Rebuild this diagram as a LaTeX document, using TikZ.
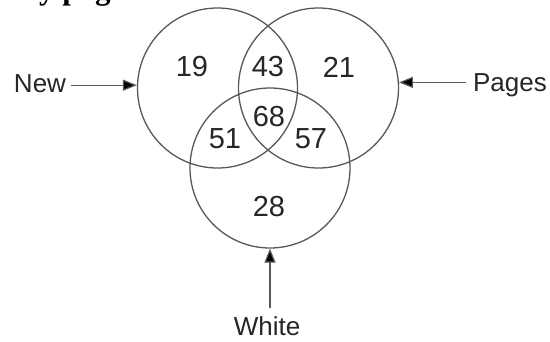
\documentclass[tikz,border=0pt]{standalone}
\usepackage{fontspec}
\setmainfont{Liberation Sans}
\newfontfamily\headfont{Liberation Serif}
\usetikzlibrary{arrows.meta}
\definecolor{linegray}{HTML}{595959}
\definecolor{textgray}{HTML}{262626}
\tikzset{
  venn/.style={circle, draw=linegray, line width=1.3pt, minimum size=160pt, inner sep=0pt},
  num/.style={text=textgray, font=\fontsize{29}{29}\selectfont, inner sep=0pt},
  lab/.style={text=textgray, font=\fontsize{26}{26}\selectfont, inner sep=3pt},
  arr/.style={draw=linegray, line width=1.2pt, -{Triangle[length=14pt,width=11pt,fill=black]}, shorten <=2pt},
}
\begin{document}
\begin{tikzpicture}[x=1pt,y=-1pt]
\useasboundingbox (0,0) rectangle (550,341);
\clip (0,0) rectangle (550,341);
\fill[white] (0,0) rectangle (550,341);
% cut-off heading fragment at the top
\node[anchor=base west, inner sep=0pt, font=\headfont\bfseries\fontsize{31}{31}\selectfont] (head) at (39,-1) {y pag};
% circles
\node[venn] (L) at (217.5,88) {};
\node[venn] (R) at (318.5,88) {};
\node[venn] (B) at (270,168) {};
% region numbers
\node[num] (n19) at (192,67) {19};
\node[num] (n43) at (268,67) {43};
\node[num] (n21) at (339,67) {21};
\node[num] (n68) at (269,117) {68};
\node[num] (n51) at (225,139) {51};
\node[num] (n57) at (311,139) {57};
\node[num] (n28) at (269,207) {28};
% labels
\node[lab] (new) at (40,84) {New};
\node[lab] (pages) at (510,85) {Pages};
\node[lab] (white) at (267,326) {White};
% arrows
\draw[arr] (new.east |- L.178) -- (L.178);
\draw[arr, shorten <=4pt] (pages.west |- R.4) -- (R.4);
\draw[arr, shorten <=5pt] (B.south |- white.north) -- (B.south);
\end{tikzpicture}
\end{document}
